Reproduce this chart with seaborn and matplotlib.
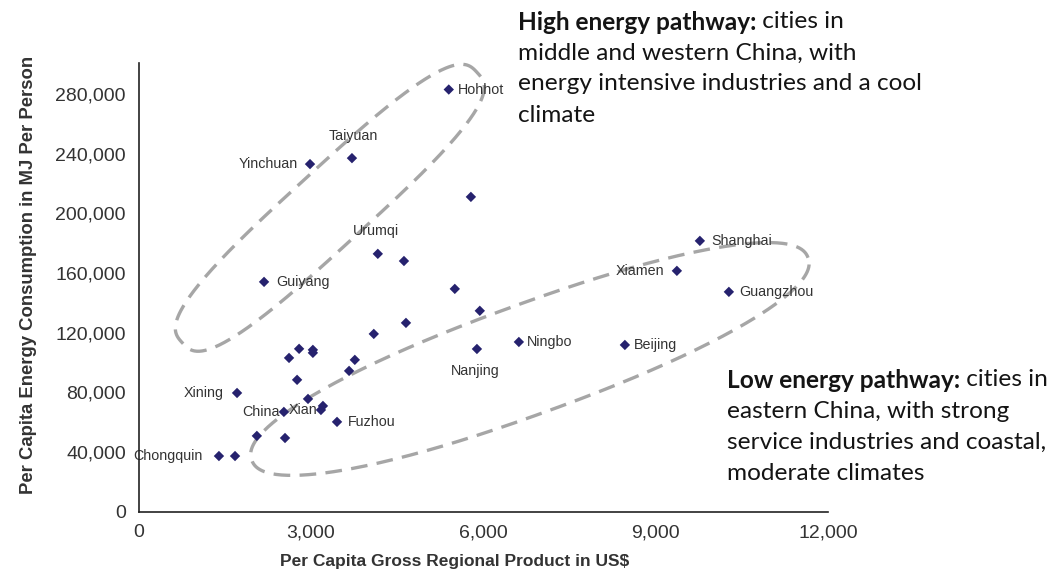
import numpy as np
import pandas as pd
import seaborn as sns
import matplotlib.pyplot as plt
from matplotlib.ticker import FuncFormatter

# per capita GRP (US$) and per capita energy use (MJ)
gdp = [5400, 3715, 2985, 5785, 4165, 4620, 2185, 5505, 5940, 4655,
       4095, 6620, 5890, 9770, 9370, 10275, 8465, 2620, 2795, 3035,
       3035, 3765, 3665, 2760, 1715, 2950, 3210, 3175, 2530, 3455,
       2060, 2550, 1400, 1680]
energy = [283000, 237000, 233000, 211000, 172800, 168000, 154000, 149300, 134600, 126500,
          119100, 113700, 109000, 181500, 161400, 147300, 111700, 103000, 109100, 108400,
          106400, 101700, 94300, 88300, 79500, 75500, 70800, 68100, 66800, 60100,
          50700, 49300, 37200, 37200]
city = ["Hohhot", "Taiyuan", "Yinchuan", "", "Urumqi", "", "Guiyang", "", "", "",
        "", "Ningbo", "Nanjing", "Shanghai", "Xiamen", "Guangzhou", "Beijing", "", "", "",
        "", "", "", "", "Xining", "", "", "Xian", "China", "Fuzhou",
        "", "", "Chongquin", ""]

x_ticks = [0, 3000, 6000, 9000, 12000]
y_ticks = [0, 40000, 80000, 120000, 160000, 200000, 240000, 280000]

high_title = "High energy pathway:"
high_lines = [" cities in", "middle and western China, with",
              "energy intensive industries and a cool", "climate"]
low_title = "Low energy pathway:"
low_lines = [" cities in", "eastern China, with strong",
             "service industries and coastal,", "moderate climates"]

# label placement (offset in pixels, horizontal alignment)
label_pos = {
    "Hohhot": ((9, 0), "left"), "Guiyang": ((12, 0), "left"),
    "Fuzhou": ((11, 0), "left"), "Ningbo": ((8, 0), "left"),
    "Beijing": ((9, 0), "left"), "Shanghai": ((11, 0), "left"),
    "Guangzhou": ((10, 0), "left"),
    "Yinchuan": ((-12, 0), "right"), "Xining": ((-13, 0), "right"),
    "China": ((-4, 0), "right"), "Xian": ((-4, 0), "right"),
    "Xiamen": ((-13, 0), "right"), "Chongquin": ((-16, 0), "right"),
    "Taiyuan": ((1, 22), "center"), "Urumqi": ((-2, 23), "center"),
    "Nanjing": ((-2, -22), "center"),
}

df = pd.DataFrame({"gdp": gdp, "energy": energy, "city": city})

sns.set_style("white")
plt.rcParams["font.family"] = ["Liberation Sans", "DejaVu Sans"]

W, H = 1051, 579
fig = plt.figure(figsize=(W / 100, H / 100), dpi=100)
ax = fig.add_axes([138.5 / W, 1 - 511.5 / H, 689.5 / W, 448.8 / H])

sns.scatterplot(data=df, x="gdp", y="energy", marker="D", s=28,
                color="#26226E", edgecolor="none", ax=ax, zorder=3)

ax.set_xlim(0, 12000)
ax.set_ylim(0, 301000)
ax.set_xticks(x_ticks)
ax.set_yticks(y_ticks)
fmt = FuncFormatter(lambda v, p: f"{int(v):,}")
ax.xaxis.set_major_formatter(fmt)
ax.yaxis.set_major_formatter(fmt)
ax.tick_params(axis="both", direction="out", length=5, width=1,
               colors="#222222", labelsize=14, labelcolor="#333333", pad=4)
for side in ["top", "right"]:
    ax.spines[side].set_visible(False)
for side in ["left", "bottom"]:
    ax.spines[side].set_color("#222222")
    ax.spines[side].set_linewidth(1.2)

ax.set_xlabel("Per Capita Gross Regional Product in US$", fontsize=12.5,
              fontweight="bold", color="#333333")
ax.set_ylabel("Per Capita Energy Consumption in MJ Per Person", fontsize=13.3,
              fontweight="bold", color="#333333")
ax.xaxis.set_label_coords((455 - 138.5) / 689.5, -0.094)
ax.yaxis.set_label_coords(-0.147, (511.5 - 275) / 448.8)

for _, row in df.iterrows():
    if row["city"] == "":
        continue
    (dx, dy), ha = label_pos[row["city"]]
    ax.annotate(row["city"], (row["gdp"], row["energy"]), xytext=(dx, dy),
                textcoords="offset pixels", ha=ha, va="center",
                fontsize=10.3, color="#333333", zorder=2)


# dashed loops round the two groups, drawn in screen space so they keep shape
def loop(center, a, b, angle, power):
    t = np.linspace(0, 2 * np.pi, 400)
    c, s = np.cos(t), np.sin(t)
    u = a * np.sign(c) * np.abs(c) ** (2 / power)
    v = b * np.sign(s) * np.abs(s) ** (2 / power)
    th = np.deg2rad(angle)
    px = u * np.cos(th) - v * np.sin(th)
    py = u * np.sin(th) + v * np.cos(th)
    cx, cy = ax.transData.transform(center)
    pts = ax.transData.inverted().transform(np.column_stack([cx + px, cy + py]))
    ax.plot(pts[:, 0], pts[:, 1], color="#A6A6A6", lw=2.4,
            dashes=(5, 2.8), clip_on=False, zorder=1)


loop((3330, 203700), 200, 38, 42.5, 3.0)
loop((6812, 102300), 296, 55, 20, 2.2)

# side notes
fig.canvas.draw()
renderer = fig.canvas.get_renderer()


def note(x0, y0, step, title, lines):
    kw = dict(fontsize=17.6, color="#141414", va="center", ha="left",
              family=["Lato", "DejaVu Sans"], transform=None)
    t = fig.text(x0, H - y0, title, fontweight="bold", **kw)
    wb = t.get_window_extent(renderer).width
    fig.text(x0 + wb, H - y0, lines[0], **kw)
    for i, line in enumerate(lines[1:], start=1):
        fig.text(x0, H - (y0 + i * step), line, **kw)


note(518, 22, 31, high_title, high_lines)
note(727, 380, 31, low_title, low_lines)

fig.savefig("out.png", dpi=100, facecolor="white")
